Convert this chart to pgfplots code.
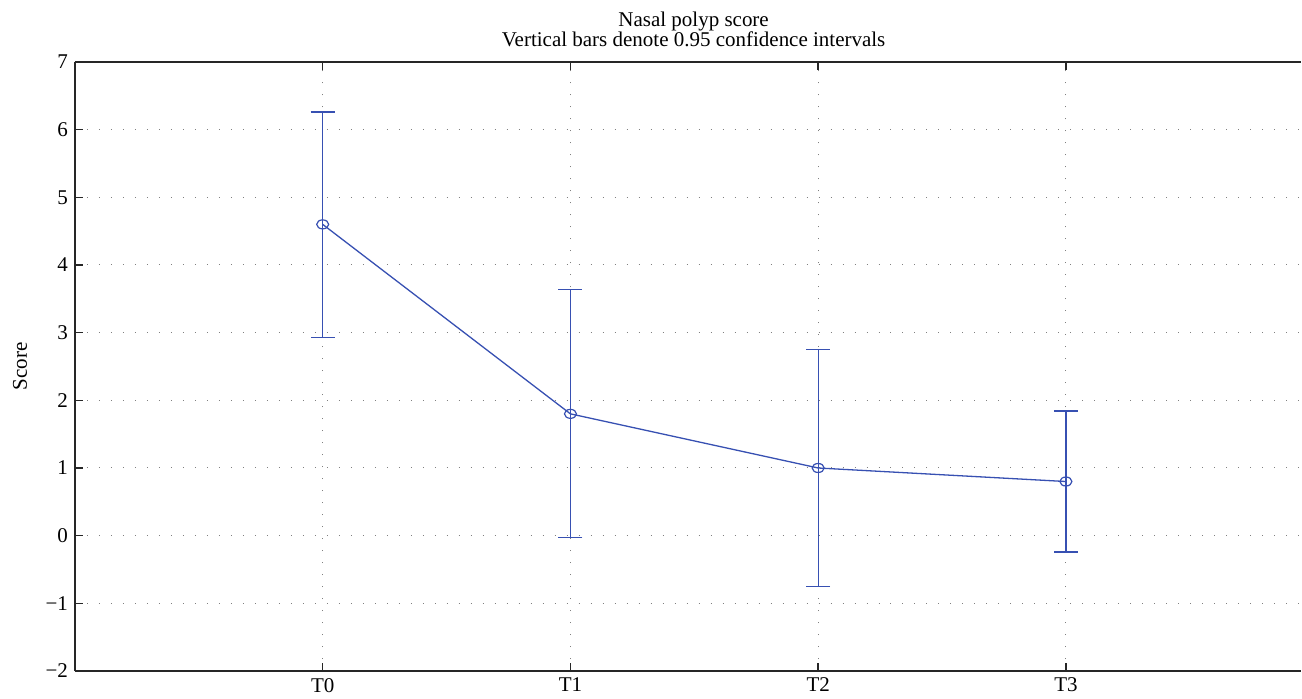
\documentclass[border=0pt]{standalone}
\usepackage{pgfplots}
\pgfplotsset{compat=1.18}
\usepackage{fontspec}
\setmainfont{Liberation Serif}
\definecolor{lineblue}{RGB}{55,80,178}
\begin{document}
\begin{tikzpicture}
\begin{axis}[
  name=main,
  scale only axis,
  width=613.5pt, height=304.7pt,
  xmin=0, xmax=4.95,
  ymin=-2, ymax=7,
  ytick={-2,-1,0,1,2,3,4,5,6,7},
  yticklabels={−2,−1,0,1,2,3,4,5,6,7},
  xtick={1,2,3,4},
  xticklabels={T0,T1,T2,T3},
  axis x line=box,
  axis y line=left,
  axis line style={-, line width=0.75pt, black!85},
  tick align=inside,
  major tick length=4pt,
  tick style={line width=0.7pt, black!85},
  xtick pos=both,
  grid=major,
  major grid style={gray, line width=0.5pt, dash pattern=on 0.5pt off 5.5pt},
  font=\fontsize{10.5}{10.5}\selectfont,
  every axis title shift=7.5pt,
  title={Nasal polyp score\\Vertical bars denote 0.95 confidence intervals},
  title style={align=center, at={(axis description cs:0.5045,1)}, anchor=south, inner sep=0pt, font=\fontsize{10.5}{9.8}\selectfont},
  ylabel={Score},
  ylabel style={at={(axis description cs:-0.0448,0.5)}, anchor=center, inner sep=0pt},
]
\addplot[color=lineblue, line width=0.65pt, mark=o, mark size=3pt,
  mark options={yscale=0.75, line width=0.6pt},
  error bars/.cd, y dir=both, y explicit,
  error mark=|,
  error mark options={mark size=6pt, line width=0.65pt, lineblue},
  error bar style={line width=0.65pt, lineblue}]
table[x=x, y=y, y error plus=ep, y error minus=em] {
x y ep em
1 4.60 1.66 1.67
2 1.80 1.84 1.83
3 1.00 1.75 1.75
4 0.80 1.04 1.04
};
\end{axis}
\path (main.north) ++(0,31pt);
\path (main.west) ++(-37.5pt,0);
\end{tikzpicture}
\end{document}
